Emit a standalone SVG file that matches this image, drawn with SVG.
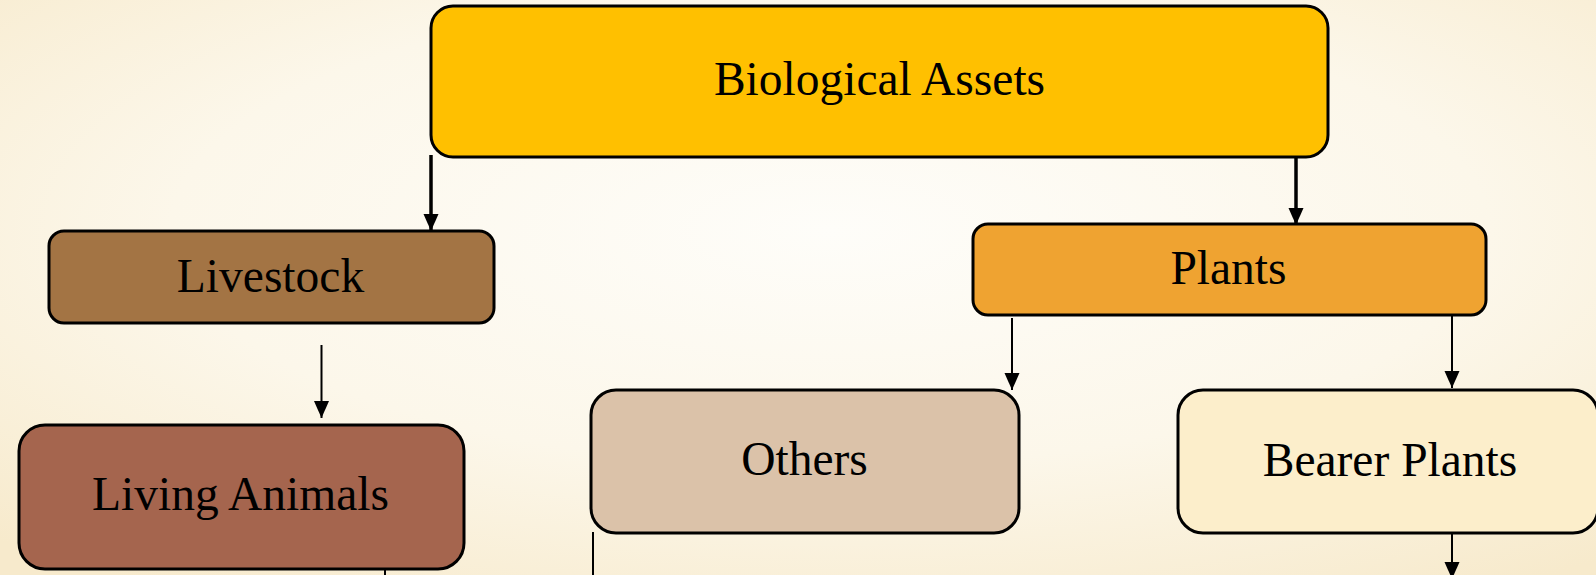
<svg xmlns="http://www.w3.org/2000/svg" width="1596" height="575" viewBox="0 0 1596 575">
  <defs>
    <radialGradient id="bg" cx="52%" cy="40%" r="75%" fx="52%" fy="40%">
      <stop offset="0" stop-color="#fefdf9"/>
      <stop offset="0.55" stop-color="#fcf7ea"/>
      <stop offset="1" stop-color="#f7eacc"/>
    </radialGradient>
    <marker id="arrow" markerUnits="userSpaceOnUse" markerWidth="16" markerHeight="17" refX="17" refY="7.5" orient="auto">
      <path d="M0,0 L17,7.5 L0,15 z" fill="#000"/>
    </marker>
  </defs>
  <style>
    .box { stroke: #000; stroke-width: 3; }
    .label { font-family: "Liberation Serif", "Times New Roman", serif; font-size: 47.5px; fill: #000; text-anchor: middle; }
    .link { stroke: #000; fill: none; }
    .heavy { stroke-width: 3.5; }
    .light { stroke-width: 2; }
  </style>

  <rect width="1596" height="575" fill="url(#bg)"/>

  <g id="connectors">
    <line class="link heavy" x1="431" y1="155" x2="431" y2="231" marker-end="url(#arrow)"/>
    <line class="link heavy" x1="1296" y1="155" x2="1296" y2="225" marker-end="url(#arrow)"/>
    <line class="link light" x1="321.5" y1="345" x2="321.5" y2="418" marker-end="url(#arrow)"/>
    <line class="link light" x1="1012" y1="318" x2="1012" y2="390" marker-end="url(#arrow)"/>
    <line class="link light" x1="1452" y1="316" x2="1452" y2="388" marker-end="url(#arrow)"/>
    <line class="link light" x1="1452" y1="534" x2="1452" y2="579" marker-end="url(#arrow)"/>
    <line class="link light" x1="385" y1="568" x2="385" y2="576"/>
    <line class="link light" x1="593" y1="532" x2="593" y2="576"/>
  </g>

  <g id="biological-assets">
    <rect class="box" x="431" y="6" width="897" height="151" rx="22" fill="#FFC000"/>
    <text class="label" x="879.5" y="95">Biological Assets</text>
  </g>

  <g id="livestock">
    <rect class="box" x="49" y="231" width="445" height="92" rx="15" fill="#A37444"/>
    <text class="label" x="270.5" y="292">Livestock</text>
  </g>

  <g id="plants">
    <rect class="box" x="973" y="224" width="513" height="91" rx="15" fill="#EFA331"/>
    <text class="label" x="1228.5" y="284">Plants</text>
  </g>

  <g id="living-animals">
    <rect class="box" x="19" y="425" width="445" height="144" rx="26" fill="#A5654E"/>
    <text class="label" x="240.5" y="510">Living Animals</text>
  </g>

  <g id="others">
    <rect class="box" x="591" y="390" width="428" height="143" rx="25" fill="#DBC2A9"/>
    <text class="label" x="804.5" y="475">Others</text>
  </g>

  <g id="bearer-plants">
    <rect class="box" x="1178" y="390" width="420" height="143" rx="25" fill="#FCEECB"/>
    <text class="label" x="1390" y="476">Bearer Plants</text>
  </g>
</svg>
